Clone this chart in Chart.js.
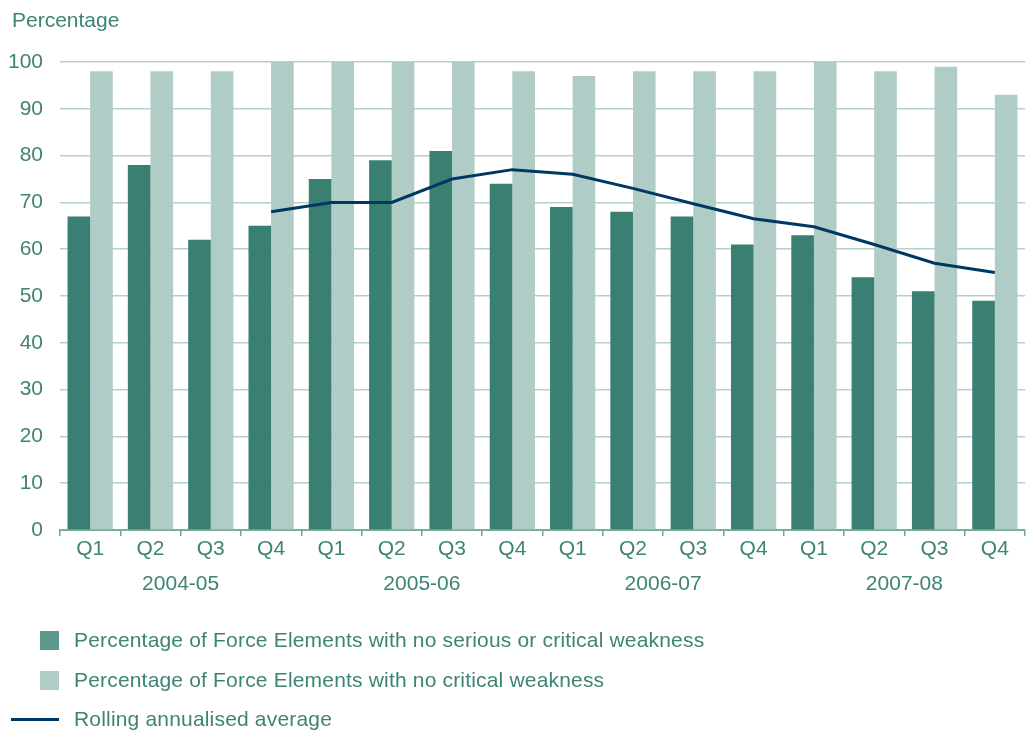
<!DOCTYPE html>
<html>
<head>
<meta charset="utf-8">
<script src="https://cdn.jsdelivr.net/npm/chart.js@4"></script>
<style>
  html, body { margin: 0; padding: 0; background: #ffffff; }
  body { width: 1029px; height: 734px; position: relative; overflow: hidden;
         font-family: "Liberation Sans", Arial, sans-serif; color: #3e8474; }
  #wrap { position: absolute; left: 0; top: 0; width: 1029px; height: 734px; }
  #ylabel { position: absolute; left: 12px; top: 7px; font-size: 21px; line-height: 26px; }
  .leg { position: absolute; font-size: 21px; line-height: 26px; white-space: nowrap; letter-spacing: 0.18px; }
  .sw { position: absolute; }
</style>
</head>
<body>
<div id="wrap"><canvas id="c" width="1029" height="734"></canvas></div>
<div id="ylabel">Percentage</div>
<div id="legend"></div>
<script>
// Quarters and financial years
const quarters = ["Q1","Q2","Q3","Q4","Q1","Q2","Q3","Q4","Q1","Q2","Q3","Q4","Q1","Q2","Q3","Q4"];
const years = ["2004-05","2005-06","2006-07","2007-08"];

// Percentage of Force Elements with no serious or critical weakness
const noSeriousOrCritical = [67, 78, 62, 65, 75, 79, 81, 74, 69, 68, 67, 61, 63, 54, 51, 49];
// Percentage of Force Elements with no critical weakness
const noCritical = [98, 98, 98, 100, 100, 100, 100, 98, 97, 98, 98, 98, 100, 98, 99, 93];
// Rolling annualised average (starts once four quarters are available)
const rollingAverage = [null, null, null, 68, 70, 70, 75, 77, 76, 73, 69.7, 66.5, 64.8, 61, 57, 55];

const yTicks = [0, 10, 20, 30, 40, 50, 60, 70, 80, 90, 100];

const seriesNames = [
  "Percentage of Force Elements with no serious or critical weakness",
  "Percentage of Force Elements with no critical weakness",
  "Rolling annualised average"
];

const TEXT = "#3e8474";
const DARK = "#398073";
const LIGHT = "#b0ccc6";
const NAVY = "#003864";
const GRID = "#b5d0ca";
const FONT = { family: "'Liberation Sans', Arial, sans-serif", size: 21 };

// Year labels centred under each group of four quarters
const yearLabels = {
  id: "yearLabels",
  afterDraw(chart) {
    const x = chart.scales.x;
    const ctx = chart.ctx;
    ctx.save();
    ctx.fillStyle = TEXT;
    ctx.font = FONT.size + "px " + FONT.family;
    ctx.textAlign = "center";
    ctx.textBaseline = "middle";
    years.forEach((yr, g) => {
      const cx = (x.getPixelForValue(g * 4 + 1) + x.getPixelForValue(g * 4 + 2)) / 2;
      ctx.fillText(yr, cx, x.bottom - 16);
    });
    ctx.restore();
  }
};

const chart = new Chart(document.getElementById("c"), {
  type: "bar",
  data: {
    labels: quarters,
    datasets: [
      {
        type: "line",
        label: seriesNames[2],
        data: rollingAverage,
        borderColor: NAVY,
        backgroundColor: NAVY,
        borderWidth: 3,
        pointRadius: 0,
        tension: 0,
        spanGaps: false,
        order: 0
      },
      {
        label: seriesNames[0],
        data: noSeriousOrCritical,
        backgroundColor: DARK,
        categoryPercentage: 0.75,
        barPercentage: 1.0,
        order: 1
      },
      {
        label: seriesNames[1],
        data: noCritical,
        backgroundColor: LIGHT,
        categoryPercentage: 0.75,
        barPercentage: 1.0,
        order: 1
      }
    ]
  },
  options: {
    responsive: false,
    animation: false,
    devicePixelRatio: 1,
    layout: { padding: { top: 62, right: 4, bottom: 134, left: 0 } },
    plugins: { legend: { display: false }, tooltip: { enabled: false } },
    scales: {
      x: {
        offset: true,
        grid: { display: true, drawOnChartArea: false, drawTicks: true, tickLength: 6, color: "#6fa59b", lineWidth: 1.5, offset: true },
        border: { display: true, color: "#7aaca2", width: 2 },
        ticks: { color: TEXT, font: FONT, padding: 1, maxRotation: 0, autoSkip: false },
        afterFit(scale) { scale.height = 70; }
      },
      y: {
        min: 0,
        max: 100,
        afterBuildTicks(scale) { scale.ticks = yTicks.map(v => ({ value: v })); },
        grid: { color: GRID, lineWidth: 1.5, drawTicks: false },
        border: { display: false },
        ticks: { color: TEXT, font: FONT, padding: 17 },
        afterFit(scale) { scale.width = 60; }
      }
    }
  },
  plugins: [yearLabels]
});

// Legend below the chart, built from the dataset names and colours
const legend = document.getElementById("legend");
const rows = [
  { name: seriesNames[0], color: "#5e988d", kind: "box", y: 640 },
  { name: seriesNames[1], color: LIGHT, kind: "box", y: 680 },
  { name: seriesNames[2], color: NAVY, kind: "line", y: 719 }
];
rows.forEach(r => {
  const sw = document.createElement("div");
  sw.className = "sw";
  sw.style.background = r.color;
  if (r.kind === "box") {
    sw.style.left = "40px"; sw.style.top = (r.y - 9) + "px";
    sw.style.width = "19px"; sw.style.height = "19px";
  } else {
    sw.style.left = "11px"; sw.style.top = (r.y - 1) + "px";
    sw.style.width = "48px"; sw.style.height = "3px";
  }
  legend.appendChild(sw);
  const t = document.createElement("div");
  t.className = "leg";
  t.textContent = r.name;
  t.style.left = "74px"; t.style.top = (r.y - 13) + "px";
  legend.appendChild(t);
});
</script>
</body>
</html>
